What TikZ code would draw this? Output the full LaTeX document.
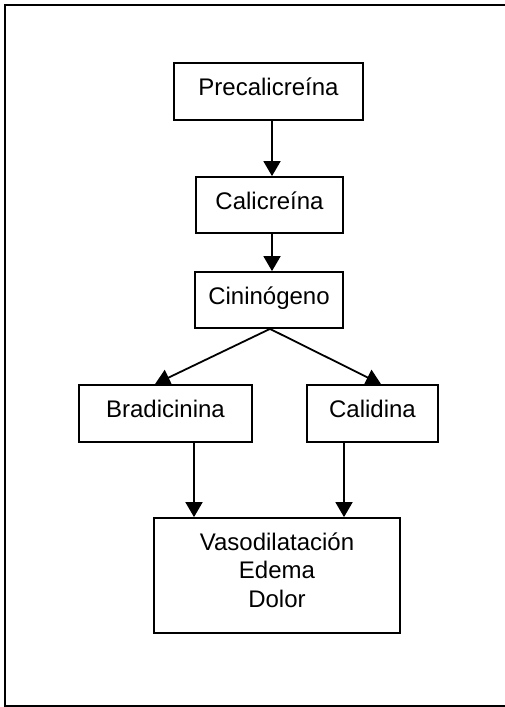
\documentclass[tikz,border=0pt]{standalone}
\usepackage{fontspec}
\setmainfont{Liberation Sans}
\usetikzlibrary{arrows.meta,backgrounds}
\begin{document}
\begin{tikzpicture}[x=1pt,y=-1pt,
  box/.style={draw, fill=white, line width=1.8pt, inner sep=0pt,
              font=\fontsize{24}{28.5}\selectfont},
  oneline/.style={box, text height=18pt, text depth=10pt},
  link/.style={line width=1.8pt, -{Triangle[width=17pt,length=15pt]}},
  frame/.style={line width=1.6pt}]
\useasboundingbox (0,0) rectangle (505,707);

% open frame around the cascade
\draw[frame] (505,5) -- (5,5) -- (5,706) -- (505,706);

% stages of the kinin cascade
\node[oneline, minimum width=189pt, minimum height=57pt] (pre) at (268.5,91.5) {Precalicreína};
\node[oneline, minimum width=147pt, minimum height=56pt] (cal) at (269.5,205) {Calicreína};
\node[oneline, minimum width=148pt, minimum height=56pt] (cin) at (269,300) {Cininógeno};
\node[oneline, minimum width=173pt, minimum height=57pt] (bra) at (165.5,413.5) {Bradicinina};
\node[oneline, minimum width=131pt, minimum height=57pt] (cld) at (372.5,413.5) {Calidina};
\node[box, align=center, minimum width=246pt, minimum height=115pt] (vas) at (277,575.5)
  {Vasodilatación\\Edema\\Dolor\rule[-11pt]{0pt}{11pt}};

% arrows, kept behind the white boxes
\begin{scope}[on background layer]
\draw[link] ([xshift=3.5pt]pre.south) -- ([xshift=3.5pt]pre.south |- cal.north);
\draw[link] ([xshift=2.5pt]cal.south) -- ([xshift=2.5pt]cal.south |- cin.north);
\draw[link] ([xshift=1pt]cin.south) -- ([xshift=-10.5pt]bra.north);
\draw[link] ([xshift=1pt]cin.south) -- ([xshift=8.5pt]cld.north);
\draw[link] ([xshift=28.5pt]bra.south) -- ([xshift=28.5pt]bra.south |- vas.north);
\draw[link] ([xshift=-28.5pt]cld.south) -- ([xshift=-28.5pt]cld.south |- vas.north);
\end{scope}
\end{tikzpicture}
\end{document}
